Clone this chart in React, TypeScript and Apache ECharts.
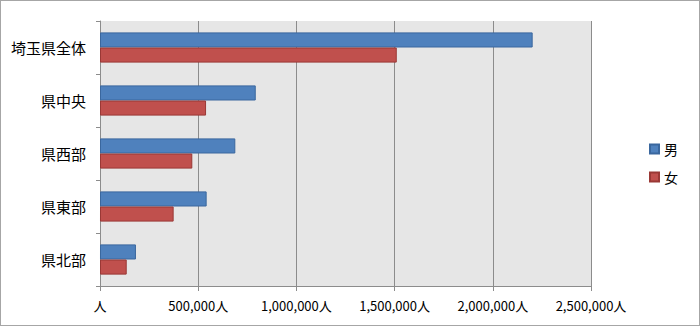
import React, { useEffect, useRef } from "react";
import * as echarts from "echarts";

const categories = ["埼玉県全体", "県中央", "県西部", "県東部", "県北部"];
const maleValues = [2203000, 793000, 689000, 543000, 183000];
const femaleValues = [1511000, 540000, 470000, 375000, 136000];
const seriesNames = ["男", "女"];

export default function App() {
  const ref = useRef<HTMLDivElement>(null);
  useEffect(() => {
    const chart = echarts.init(ref.current!, null, { renderer: "svg" });
    const font = "'Noto Sans CJK JP', 'Noto Sans', sans-serif";
    chart.setOption({
      animation: false,
      backgroundColor: "#ffffff",
      textStyle: { fontFamily: font },
      grid: {
        left: 100,
        top: 21,
        right: 109,
        bottom: 40,
        show: true,
        backgroundColor: "#E6E6E6",
        borderWidth: 0,
      },
      legend: {
        orient: "vertical",
        right: 17,
        top: 137,
        itemWidth: 9,
        itemHeight: 9,
        itemGap: 14,
        icon: "rect",
        textStyle: { fontSize: 14, color: "#000", fontFamily: font },
        data: seriesNames,
      },
      xAxis: {
        type: "value",
        min: 0,
        max: 2500000,
        interval: 500000,
        axisLine: { show: true, lineStyle: { color: "#8C8C8C", width: 1 } },
        axisTick: { show: true, length: 5, lineStyle: { color: "#8C8C8C" } },
        splitLine: { show: true, lineStyle: { color: "#8C8C8C", width: 1 } },
        axisLabel: {
          color: "#000",
          fontSize: 13,
          margin: 13,
          fontFamily: font,
          formatter: (v: number) => (v === 0 ? "人" : v.toLocaleString("en-US") + "人"),
        },
      },
      yAxis: {
        type: "category",
        inverse: true,
        data: categories,
        axisLine: { show: true, lineStyle: { color: "#8C8C8C", width: 1 } },
        axisTick: { show: true, length: 4, lineStyle: { color: "#8C8C8C" } },
        axisLabel: { color: "#000", fontSize: 15, margin: 14, fontFamily: font },
        splitLine: { show: false },
      },
      series: [
        {
          name: seriesNames[0],
          type: "bar",
          data: maleValues,
          barGap: "0%",
          barCategoryGap: "43%",
          itemStyle: { color: "#4F81BD", borderColor: "#3A679E", borderWidth: 1 },
        },
        {
          name: seriesNames[1],
          type: "bar",
          data: femaleValues,
          itemStyle: { color: "#C0504D", borderColor: "#9A3835", borderWidth: 1 },
        },
      ],
    });
    return () => chart.dispose();
  }, []);
  return (
    <div
      style={{
        position: "fixed",
        left: 0,
        top: 0,
        width: 700,
        height: 326,
        background: "#fff",
      }}
    >
      <div ref={ref} style={{ position: "absolute", left: 0, top: 0, width: 700, height: 326 }} />
      <div
        style={{
          position: "absolute",
          left: 0,
          top: 0,
          width: 700,
          height: 326,
          boxSizing: "border-box",
          border: "1px solid #A6A6A6",
          pointerEvents: "none",
        }}
      />
    </div>
  );
}
